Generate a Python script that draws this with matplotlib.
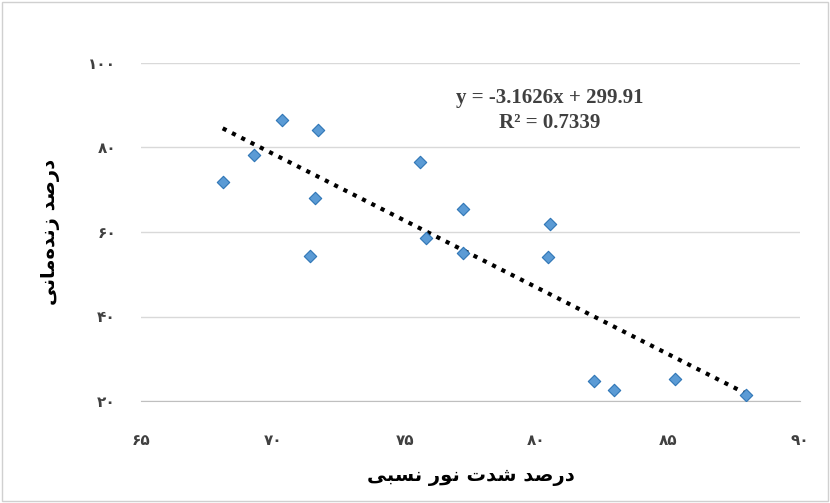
import matplotlib.pyplot as plt
import numpy as np

light = [68.1, 69.3, 70.35, 71.7, 71.6, 71.4, 75.6, 75.8, 77.2, 77.2, 80.5, 80.45, 82.2, 82.95, 85.25, 87.95]
survival = [71.8, 78.2, 86.5, 84.1, 68.0, 54.3, 76.6, 58.6, 65.4, 55.0, 61.9, 54.1, 24.7, 22.6, 25.2, 21.4]
slope, intercept = -3.1626, 299.91
xticks = [65, 70, 75, 80, 85, 90]
yticks = [20, 40, 60, 80, 100]

fa = str.maketrans("0123456789", "۰۱۲۳۴۵۶۷۸۹")
xlab = "ﯽﺒﺴﻧ ﺭﻮﻧ ﺕﺪﺷ ﺪﺻﺭﺩ"
ylab = "ﯽﻧﺎﻣﻩﺪﻧﺯ ﺪﺻﺭﺩ"

fig = plt.figure(figsize=(8.3, 5.03), dpi=100)
ax = fig.add_axes([141/830, 1-401/503, 659/830, 338/503])
ax.set_xlim(65, 90)
ax.set_ylim(20, 100)
ax.set_yticks(yticks)
ax.set_xticks(xticks)
ax.set_xticklabels([str(t).translate(fa) for t in xticks], fontsize=11, fontweight='bold')
ax.set_yticklabels([str(t).translate(fa) for t in yticks], fontsize=11, fontweight='bold')
ax.grid(axis='y', color='#d9d9d9', lw=1)
ax.set_axisbelow(True)
for s in ['top', 'right', 'left']:
    ax.spines[s].set_visible(False)
ax.spines['bottom'].set_color('#bfbfbf')
ax.tick_params(axis='x', length=0, pad=23, colors='#404040')
ax.tick_params(axis='y', length=0, pad=18, colors='#404040')

xs = np.array([min(light), max(light)])
ax.plot(xs, slope*xs + intercept, ls=(0, (1, 1.5)), color='black', lw=3)
ax.scatter(light, survival, marker='D', s=40, color='#5B9BD5', edgecolor='#2E75B6', lw=0.8, zorder=3)

ax.text(0.62, 0.86, "y = -3.1626x + 299.91\nR² = 0.7339", transform=ax.transAxes,
        ha='center', va='center', fontsize=15, fontweight='bold', family='Liberation Serif',
        color='#404040', linespacing=1.3)
ax.set_xlabel(xlab, fontsize=14, fontweight='bold', labelpad=14)
ax.set_ylabel(ylab, fontsize=14, fontweight='bold', labelpad=20)

fig.patches.append(plt.Rectangle((0.003, 0.003), 0.994, 0.994, transform=fig.transFigure,
                                 fill=False, ec='#d0d0d0', lw=1))
fig.savefig("out.png")
